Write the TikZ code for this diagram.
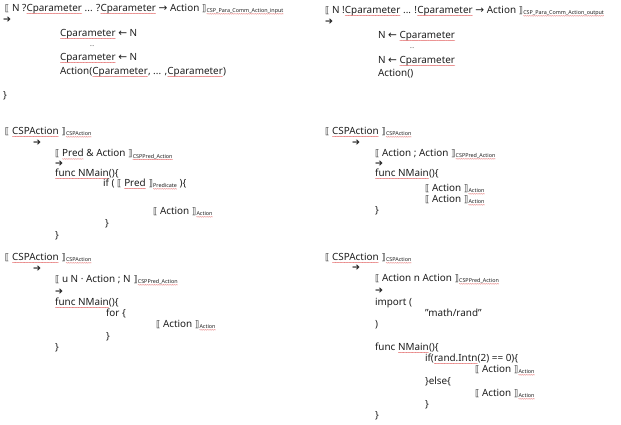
\documentclass[tikz,border=0pt]{standalone}
\usepackage{fontspec}
\setmainfont{Noto Sans}
\newfontfamily\symfont{DejaVu Sans}
\usetikzlibrary{decorations.pathmorphing}

\definecolor{ink}{HTML}{1E1E1E}
\definecolor{spell}{HTML}{E05A5A}

% semantic brackets and arrows
\newcommand\lb{{\symfont\fontsize{9}{10}\selectfont ⟦}}
\newcommand\rb{{\symfont\fontsize{9}{10}\selectfont ⟧}}
\newcommand\harr{{\symfont\fontsize{9.5}{10}\selectfont ➔}}
\newcommand\ra{{\symfont\fontsize{10.5}{11}\selectfont →}}
\newcommand\la{{\symfont\fontsize{10.5}{11}\selectfont ←}}
% red wavy underline under a word
\newcommand\sq[1]{\tikz[baseline=(sqw.base)]{%
  \node[inner sep=0pt,outer sep=0pt,anchor=base west] (sqw) at (0,0) {#1};%
  \draw[spell,line width=0.3pt,decorate,decoration={snake,amplitude=0.3pt,segment length=1.8pt}]
    ([yshift=-0.2em]sqw.base west) -- ([yshift=-0.2em]sqw.base east);}}
% small semantic-function subscript
\newcommand\lbl[1]{\raisebox{-1.3pt}{\fontsize{5.4}{6}\selectfont\sq{#1}}}
\newcommand\smalldots{{\fontsize{5.5}{6}\selectfont ...}}

\begin{document}
\begin{tikzpicture}[x=1pt,y=-1pt,
  code/.style={anchor=base west,inner sep=0pt,outer sep=0pt,text=ink,
    font=\fontsize{9.9}{11}\selectfont}]
\clip (0,0) rectangle (621,425);
\path[use as bounding box] (0,0) rectangle (621,425);

% ---- input communication
\node[code] (tl1) at (5,11.5) {\lb{} N ?\sq{Cparameter} ... ?\sq{Cparameter} \ra{} Action \rb\lbl{CSP\_Para\_Comm\_Action\_input}};
\node[code] (tl2) at (3,23) {\harr};
\node[code] (tl3) at (60,36.5) {\sq{Cparameter} \la{} N};
\node[code] (tl4) at (90,47) {\smalldots};
\node[code] (tl5) at (60,60.5) {\sq{Cparameter} \la{} N};
\node[code] (tl6) at (60,74.5) {Action(\sq{Cparameter}, ... ,\sq{Cparameter})};
\node[code] (tl7) at (3,98.5) {\}};

% ---- output communication
\node[code] (tr1) at (325,13.5) {\lb{} N !\sq{Cparameter} ... !\sq{Cparameter} \ra{} Action \rb\lbl{CSP\_Para\_Comm\_Action\_output}};
\node[code] (tr2) at (325,25) {\harr};
\node[code] (tr3) at (378,38.5) {N \la{} \sq{Cparameter}};
\node[code] (tr4) at (410,49) {\smalldots};
\node[code] (tr5) at (378,63.5) {N \la{} \sq{Cparameter}};
\node[code] (tr6) at (378,76.5) {Action()};

% ---- guarded action
\node[code] (ml1) at (5,134.5) {\lb{} \sq{CSPAction} \rb\lbl{CSPAction}};
\node[code] (ml2) at (33,146) {\harr};
\node[code] (ml3) at (55,157) {\lb{} \sq{Pred} \& Action \rb\lbl{CSPPred\_Action}};
\node[code] (ml4) at (55,167) {\harr};
\node[code] (ml5) at (55,176.5) {\sq{func NMain}()\{};
\node[code] (ml6) at (103,186.5) {if ( \lb{} \sq{Pred} \rb\lbl{Predicate} )\{};
\node[code] (ml7) at (153,214.5) {\lb{} Action \rb\lbl{Action}};
\node[code] (ml8) at (105,226) {\}};
\node[code] (ml9) at (55,238) {\}};

% ---- sequential composition
\node[code] (mr1) at (325,134.5) {\lb{} \sq{CSPAction} \rb\lbl{CSPAction}};
\node[code] (mr2) at (352,146) {\harr};
\node[code] (mr3) at (375,156.5) {\lb{} Action ; Action \rb\lbl{CSPPred\_Action}};
\node[code] (mr4) at (375,167) {\harr};
\node[code] (mr5) at (375,176.5) {\sq{func NMain}()\{};
\node[code] (mr6) at (425,191.5) {\lb{} Action \rb\lbl{Action}};
\node[code] (mr7) at (425,202.5) {\lb{} Action \rb\lbl{Action}};
\node[code] (mr8) at (375,213) {\}};

% ---- recursion
\node[code] (bl1) at (5,260.5) {\lb{} \sq{CSPAction} \rb\lbl{CSPAction}};
\node[code] (bl2) at (33,271) {\harr};
\node[code] (bl3) at (55,282.5) {\lb{} u N · Action ; N \rb\lbl{CSPPred\_Action}};
\node[code] (bl4) at (55,294) {\harr};
\node[code] (bl5) at (55,305.5) {\sq{func NMain}()\{};
\node[code] (bl6) at (106,316.5) {for \{};
\node[code] (bl7) at (156,327.5) {\lb{} Action \rb\lbl{Action}};
\node[code] (bl8) at (106,339.5) {\}};
\node[code] (bl9) at (55,350.5) {\}};

% ---- internal choice
\node[code] (br1) at (325,260.5) {\lb{} \sq{CSPAction} \rb\lbl{CSPAction}};
\node[code] (br2) at (352,270.5) {\harr};
\node[code] (br3) at (375,281.5) {\lb{} Action n Action \rb\lbl{CSPPred\_Action}};
\node[code] (br4) at (375,293) {\harr};
\node[code] (br5) at (375,305.5) {import (};
\node[code] (br6) at (425,316.5) {"math/rand"};
\node[code] (br7) at (375,327.5) {)};
\node[code] (br8) at (375,350.5) {func \sq{NMain}()\{};
\node[code] (br9) at (425,361.5) {if(\sq{rand.Intn}(2) == 0)\{};
\node[code] (br10) at (475,372.5) {\lb{} Action \rb\lbl{Action}};
\node[code] (br11) at (425,384.5) {\}else\{};
\node[code] (br12) at (475,396.5) {\lb{} Action \rb\lbl{Action}};
\node[code] (br13) at (425,407.5) {\}};
\node[code] (br14) at (375,418.5) {\}};
\end{tikzpicture}
\end{document}
